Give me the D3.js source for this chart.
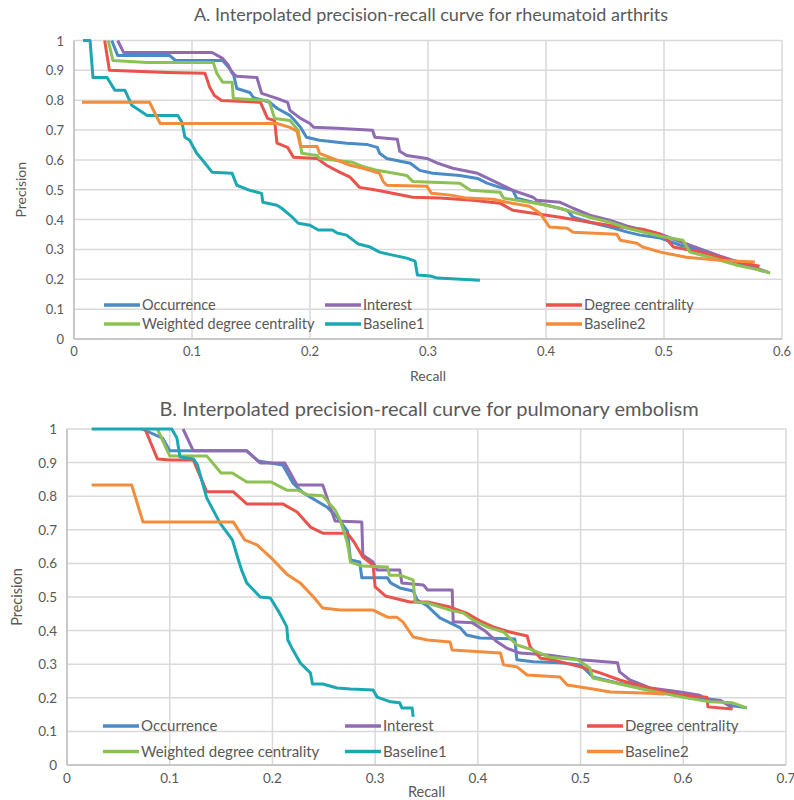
<!DOCTYPE html>
<html>
<head>
<meta charset="utf-8">
<script src="https://cdn.jsdelivr.net/npm/d3@7"></script>
<style>
  body { margin: 0; background: #fff; }
  svg text { font-family: Lato, "Open Sans", sans-serif; fill: #595959; }
</style>
</head>
<body>
<div id="chart"></div>
<script>
// series names / colours (same order in both panels)
const seriesNames = ["Occurrence", "Interest", "Degree centrality", "Weighted degree centrality", "Baseline1", "Baseline2"];
const seriesColors = ["#4a8ac6", "#8f6bb1", "#e9534c", "#8dc153", "#1ba8b3", "#f38c3b"];

// tick values
const yTicks = [0, 0.1, 0.2, 0.3, 0.4, 0.5, 0.6, 0.7, 0.8, 0.9, 1];
const xTicksA = [0, 0.1, 0.2, 0.3, 0.4, 0.5, 0.6];
const xTicksB = [0, 0.1, 0.2, 0.3, 0.4, 0.5, 0.6, 0.7];

// Panel A: rheumatoid arthritis, [recall, precision]
const occurrenceA = [[0.032,1],[0.037,0.95],[0.081,0.95],[0.086,0.933],[0.126,0.933],[0.131,0.91],[0.135,0.89],[0.138,0.839],[0.149,0.826],[0.152,0.809],[0.166,0.793],[0.172,0.773],[0.183,0.749],[0.187,0.732],[0.192,0.709],[0.197,0.676],[0.208,0.666],[0.231,0.656],[0.248,0.652],[0.257,0.642],[0.259,0.622],[0.265,0.605],[0.285,0.589],[0.293,0.565],[0.304,0.555],[0.327,0.548],[0.342,0.538],[0.35,0.522],[0.361,0.508],[0.372,0.498],[0.375,0.472],[0.389,0.458],[0.401,0.448],[0.418,0.431],[0.423,0.408],[0.437,0.391],[0.454,0.375],[0.469,0.358],[0.48,0.348],[0.497,0.338],[0.514,0.314],[0.531,0.298],[0.547,0.274],[0.564,0.254],[0.584,0.227]];
const interestA = [[0.037,1],[0.042,0.96],[0.117,0.96],[0.126,0.94],[0.131,0.916],[0.134,0.89],[0.138,0.88],[0.155,0.876],[0.159,0.823],[0.172,0.806],[0.181,0.793],[0.183,0.766],[0.192,0.739],[0.2,0.722],[0.203,0.709],[0.223,0.706],[0.253,0.699],[0.255,0.676],[0.274,0.669],[0.276,0.629],[0.282,0.615],[0.299,0.605],[0.308,0.589],[0.321,0.572],[0.342,0.555],[0.358,0.525],[0.372,0.498],[0.389,0.475],[0.392,0.465],[0.412,0.458],[0.423,0.438],[0.437,0.415],[0.454,0.398],[0.469,0.378],[0.497,0.351],[0.522,0.314],[0.547,0.278],[0.569,0.251],[0.588,0.224]];
const degreeA = [[0.026,1],[0.03,0.9],[0.079,0.893],[0.111,0.89],[0.115,0.843],[0.119,0.816],[0.125,0.799],[0.158,0.793],[0.164,0.739],[0.17,0.732],[0.172,0.656],[0.181,0.642],[0.186,0.609],[0.206,0.605],[0.214,0.582],[0.225,0.559],[0.234,0.542],[0.242,0.508],[0.257,0.498],[0.27,0.488],[0.287,0.475],[0.31,0.472],[0.338,0.465],[0.361,0.455],[0.372,0.431],[0.389,0.421],[0.412,0.408],[0.437,0.391],[0.463,0.375],[0.482,0.368],[0.497,0.351],[0.503,0.331],[0.508,0.308],[0.531,0.291],[0.556,0.264],[0.581,0.244]];
const weightedA = [[0.029,1],[0.033,0.933],[0.062,0.926],[0.118,0.926],[0.121,0.89],[0.126,0.86],[0.134,0.86],[0.135,0.806],[0.164,0.799],[0.166,0.789],[0.17,0.739],[0.183,0.732],[0.19,0.699],[0.193,0.622],[0.206,0.615],[0.208,0.605],[0.236,0.592],[0.244,0.579],[0.257,0.565],[0.282,0.548],[0.287,0.528],[0.327,0.522],[0.336,0.498],[0.361,0.492],[0.364,0.472],[0.386,0.458],[0.395,0.452],[0.412,0.438],[0.423,0.425],[0.437,0.408],[0.454,0.391],[0.469,0.371],[0.497,0.344],[0.516,0.331],[0.522,0.291],[0.539,0.274],[0.562,0.247],[0.581,0.231],[0.59,0.221]];
const baseline1A = [[0.0076,1],[0.0136,1],[0.0161,0.876],[0.028,0.876],[0.0347,0.833],[0.0432,0.833],[0.049,0.783],[0.062,0.749],[0.088,0.749],[0.0915,0.726],[0.094,0.676],[0.098,0.666],[0.104,0.622],[0.109,0.599],[0.117,0.559],[0.134,0.555],[0.138,0.515],[0.149,0.498],[0.159,0.488],[0.16,0.458],[0.172,0.448],[0.176,0.438],[0.185,0.408],[0.19,0.388],[0.2,0.381],[0.207,0.365],[0.219,0.365],[0.223,0.355],[0.231,0.348],[0.241,0.318],[0.251,0.308],[0.259,0.291],[0.27,0.281],[0.282,0.271],[0.289,0.261],[0.291,0.214],[0.302,0.211],[0.308,0.204],[0.344,0.197]];
const baseline2A = [[0.0068,0.793],[0.064,0.793],[0.073,0.722],[0.172,0.722],[0.183,0.709],[0.189,0.696],[0.192,0.645],[0.206,0.645],[0.208,0.622],[0.219,0.605],[0.234,0.582],[0.245,0.572],[0.259,0.555],[0.262,0.528],[0.265,0.515],[0.299,0.512],[0.303,0.488],[0.319,0.482],[0.333,0.472],[0.355,0.468],[0.367,0.458],[0.386,0.445],[0.395,0.421],[0.399,0.398],[0.403,0.375],[0.418,0.371],[0.423,0.358],[0.437,0.355],[0.46,0.351],[0.463,0.331],[0.477,0.321],[0.482,0.308],[0.497,0.291],[0.519,0.274],[0.547,0.264],[0.577,0.258]];

// Panel B: pulmonary embolism, [recall, precision]
const occurrenceB = [[0.073,1],[0.093,0.973],[0.1,0.935],[0.175,0.935],[0.186,0.905],[0.21,0.893],[0.22,0.839],[0.23,0.81],[0.253,0.768],[0.263,0.738],[0.273,0.696],[0.276,0.61],[0.285,0.604],[0.287,0.557],[0.312,0.557],[0.315,0.542],[0.324,0.527],[0.337,0.518],[0.341,0.491],[0.351,0.473],[0.363,0.438],[0.373,0.423],[0.383,0.408],[0.389,0.387],[0.402,0.378],[0.436,0.375],[0.438,0.313],[0.454,0.307],[0.48,0.304],[0.5,0.298],[0.512,0.262],[0.536,0.244],[0.561,0.229],[0.584,0.214],[0.633,0.193],[0.648,0.176],[0.662,0.17]];
const interestB = [[0.113,1],[0.123,0.935],[0.175,0.935],[0.188,0.899],[0.212,0.899],[0.224,0.833],[0.249,0.833],[0.261,0.726],[0.287,0.723],[0.288,0.625],[0.298,0.604],[0.302,0.58],[0.324,0.58],[0.326,0.542],[0.347,0.536],[0.351,0.521],[0.375,0.521],[0.376,0.426],[0.395,0.423],[0.407,0.399],[0.419,0.366],[0.428,0.348],[0.441,0.333],[0.47,0.327],[0.5,0.313],[0.536,0.304],[0.538,0.277],[0.548,0.253],[0.561,0.238],[0.568,0.229],[0.597,0.217],[0.616,0.208],[0.623,0.193],[0.636,0.193],[0.648,0.17]];
const degreeB = [[0.076,1],[0.088,0.911],[0.1,0.908],[0.123,0.908],[0.136,0.813],[0.162,0.813],[0.175,0.777],[0.21,0.777],[0.224,0.753],[0.237,0.708],[0.249,0.69],[0.273,0.69],[0.28,0.661],[0.288,0.619],[0.298,0.595],[0.3,0.53],[0.31,0.503],[0.334,0.485],[0.351,0.485],[0.373,0.47],[0.389,0.452],[0.402,0.429],[0.415,0.411],[0.431,0.396],[0.448,0.384],[0.451,0.351],[0.461,0.318],[0.473,0.313],[0.5,0.292],[0.519,0.274],[0.538,0.253],[0.555,0.238],[0.584,0.217],[0.597,0.208],[0.623,0.202],[0.624,0.173],[0.648,0.167]];
const weightedB = [[0.088,1],[0.1,0.92],[0.136,0.92],[0.15,0.869],[0.161,0.869],[0.175,0.842],[0.199,0.842],[0.214,0.818],[0.225,0.818],[0.234,0.804],[0.249,0.801],[0.261,0.759],[0.266,0.729],[0.273,0.661],[0.276,0.604],[0.287,0.592],[0.312,0.589],[0.314,0.565],[0.324,0.565],[0.337,0.551],[0.339,0.485],[0.351,0.482],[0.373,0.461],[0.386,0.452],[0.395,0.432],[0.409,0.411],[0.425,0.396],[0.438,0.357],[0.451,0.345],[0.47,0.321],[0.497,0.313],[0.509,0.289],[0.512,0.259],[0.534,0.244],[0.56,0.226],[0.584,0.211],[0.604,0.199],[0.626,0.188],[0.648,0.185],[0.662,0.17]];
const baseline1B = [[0.024,1],[0.102,1],[0.107,0.973],[0.11,0.917],[0.123,0.911],[0.127,0.893],[0.136,0.795],[0.149,0.72],[0.161,0.67],[0.166,0.619],[0.17,0.58],[0.175,0.542],[0.188,0.5],[0.198,0.497],[0.207,0.452],[0.214,0.411],[0.215,0.372],[0.22,0.342],[0.227,0.304],[0.237,0.274],[0.239,0.241],[0.249,0.241],[0.263,0.229],[0.276,0.226],[0.298,0.223],[0.302,0.202],[0.315,0.188],[0.324,0.185],[0.326,0.17],[0.336,0.17],[0.337,0.143]];
const baseline2B = [[0.024,0.833],[0.063,0.833],[0.074,0.723],[0.162,0.723],[0.173,0.67],[0.185,0.655],[0.198,0.619],[0.214,0.568],[0.227,0.542],[0.24,0.5],[0.249,0.467],[0.266,0.461],[0.298,0.461],[0.312,0.44],[0.321,0.44],[0.327,0.426],[0.337,0.381],[0.351,0.372],[0.373,0.366],[0.375,0.342],[0.422,0.333],[0.425,0.298],[0.438,0.292],[0.448,0.268],[0.48,0.262],[0.487,0.238],[0.512,0.226],[0.529,0.217],[0.561,0.214],[0.582,0.211]];

const svg = d3.select("#chart").append("svg")
    .attr("width", 794)
    .attr("height", 800);

function drawPanel(p) {
    const x = d3.scaleLinear().domain([0, p.xMax]).range([p.left, p.right]);
    const y = d3.scaleLinear().domain([0, 1]).range([p.bottom, p.top]);
    const g = svg.append("g");

    // grid
    g.selectAll(".hg").data(yTicks).enter().append("line")
        .attr("x1", p.left).attr("x2", p.right)
        .attr("y1", d => y(d)).attr("y2", d => y(d))
        .attr("stroke", "#d9d9d9").attr("stroke-width", 1.5);
    g.selectAll(".vg").data(p.xTicks).enter().append("line")
        .attr("x1", d => x(d)).attr("x2", d => x(d))
        .attr("y1", p.top).attr("y2", p.bottom)
        .attr("stroke", "#d9d9d9").attr("stroke-width", 1.5);
    // left & bottom axis lines
    g.append("line").attr("x1", p.left).attr("x2", p.left).attr("y1", p.top).attr("y2", p.bottom)
        .attr("stroke", "#bfbfbf").attr("stroke-width", 1.5);
    g.append("line").attr("x1", p.left).attr("x2", p.right).attr("y1", p.bottom).attr("y2", p.bottom)
        .attr("stroke", "#bfbfbf").attr("stroke-width", 1.5);

    // tick labels
    g.selectAll(".yl").data(yTicks).enter().append("text")
        .attr("x", p.left - 10).attr("y", d => y(d) + 5)
        .attr("text-anchor", "end").style("font-size", p.tickSize + "px")
        .text(d => d3.format("")(d));
    g.selectAll(".xl").data(p.xTicks).enter().append("text")
        .attr("x", d => x(d)).attr("y", p.bottom + p.tickSize + 4)
        .attr("text-anchor", "middle").style("font-size", p.tickSize + "px")
        .text(d => d3.format("")(d));

    // titles
    g.append("text").attr("x", p.titleX).attr("y", p.titleY)
        .attr("text-anchor", "middle").style("font-size", p.titleSize + "px")
        .text(p.title);
    g.append("text").attr("x", (p.left + p.right) / 2).attr("y", p.recallY)
        .attr("text-anchor", "middle").style("font-size", p.tickSize + 1 + "px")
        .text("Recall");
    g.append("text")
        .attr("transform", `translate(${p.precX},${(p.top + p.bottom) / 2}) rotate(-90)`)
        .attr("text-anchor", "middle").style("font-size", p.tickSize + 1 + "px")
        .text("Precision");

    // curves
    const line = d3.line().x(d => x(d[0])).y(d => y(d[1]));
    g.selectAll(".curve").data(p.series).enter().append("path")
        .attr("d", line)
        .attr("fill", "none")
        .attr("stroke", (d, i) => seriesColors[i])
        .attr("stroke-width", 3)
        .attr("stroke-linejoin", "round");

    // legend
    const lg = g.selectAll(".leg").data(seriesNames).enter().append("g")
        .attr("transform", (d, i) => `translate(${p.legX + (i % 3) * p.legStep},${p.legY + Math.floor(i / 3) * p.legRow})`);
    lg.append("line").attr("x1", 0).attr("x2", 36).attr("y1", 0).attr("y2", 0)
        .attr("stroke", (d, i) => seriesColors[i]).attr("stroke-width", 3.5);
    lg.append("text").attr("x", 38).attr("y", 5)
        .style("font-size", p.legSize + "px")
        .text(d => d);
}

drawPanel({
    title: "A. Interpolated precision-recall curve for rheumatoid arthrits",
    titleX: 431, titleY: 21, titleSize: 18,
    left: 74, right: 782, top: 40.5, bottom: 339,
    xMax: 0.6, xTicks: xTicksA, tickSize: 13, precX: 26, recallY: 381,
    series: [occurrenceA, interestA, degreeA, weightedA, baseline1A, baseline2A],
    legX: 104, legY: 305, legStep: 221, legRow: 19, legSize: 14.5
});

drawPanel({
    title: "B. Interpolated precision-recall curve for pulmonary embolism",
    titleX: 429, titleY: 416, titleSize: 20,
    left: 67, right: 786, top: 429, bottom: 765,
    xMax: 0.7, xTicks: xTicksB, tickSize: 13.5, precX: 22, recallY: 797,
    series: [occurrenceB, interestB, degreeB, weightedB, baseline1B, baseline2B],
    legX: 103, legY: 726, legStep: 242, legRow: 25.5, legSize: 15
});
</script>
</body>
</html>
